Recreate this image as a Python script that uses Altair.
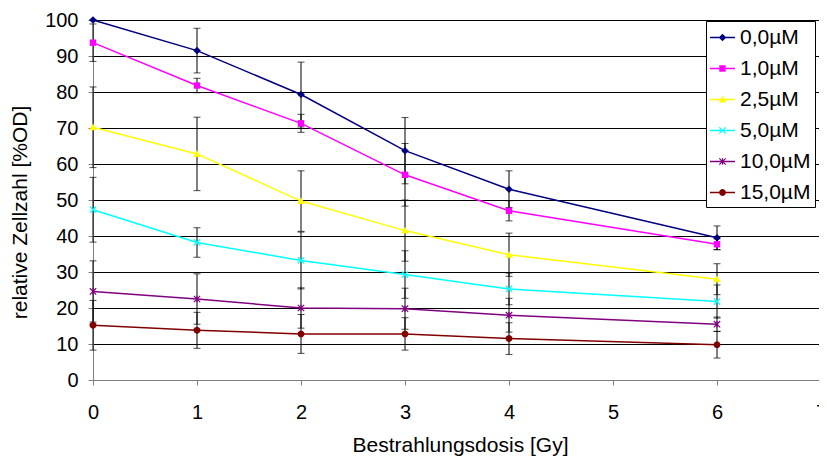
import math
import altair as alt
import pandas as pd

# ---------------- data ----------------
doses = [0, 1, 2, 3, 4, 6]
series_names = ["0,0µM", "1,0µM", "2,5µM", "5,0µM", "10,0µM", "15,0µM"]
series_colors = ["#000080", "#FF00FF", "#FFFF00", "#00FFFF", "#800080", "#800000"]

v_00 = [100.0, 91.5, 79.3, 63.7, 53.0, 39.5]
v_10 = [93.7, 81.8, 71.3, 57.0, 47.0, 37.7]
v_25 = [70.2, 62.8, 49.7, 41.5, 34.8, 28.0]
v_50 = [47.3, 38.2, 33.2, 29.3, 25.3, 21.8]
v_100 = [24.6, 22.5, 20.0, 19.8, 18.0, 15.5]
v_150 = [15.2, 13.8, 12.8, 12.8, 11.5, 9.8]

e_00 = [0.0, 6.2, 9.0, 9.2, 5.1, 3.3]
e_10 = [5.2, 2.0, 2.5, 8.7, 2.8, 1.5]
e_25 = [11.2, 10.2, 8.4, 8.5, 6.0, 4.3]
e_50 = [9.0, 4.1, 7.9, 6.6, 4.4, 4.6]
e_100 = [8.5, 7.0, 5.6, 5.7, 4.7, 2.0]
e_150 = [6.9, 5.0, 5.4, 4.5, 4.4, 3.7]

x_ticks = [0, 1, 2, 3, 4, 5, 6, 7]
y_ticks = [0, 10, 20, 30, 40, 50, 60, 70, 80, 90, 100]

values = [v_00, v_10, v_25, v_50, v_100, v_150]
errors = [e_00, e_10, e_25, e_50, e_100, e_150]

rows = []
for name, vals, errs in zip(series_names, values, errors):
    for d, v, e in zip(doses, vals, errs):
        rows.append({"series": name, "dose": d, "value": v, "lo": v - e, "hi": v + e})
df = pd.DataFrame(rows)


# ---------------- marker shapes (unit box -1..1) ----------------
def poly(pts):
    area = 0.0
    for i in range(len(pts)):
        x1, y1 = pts[i]
        x2, y2 = pts[(i + 1) % len(pts)]
        area += x1 * y2 - x2 * y1
    if area < 0:
        pts = pts[::-1]
    return "M" + "L".join(f"{x:.4f},{y:.4f}" for x, y in pts) + "Z"


def bar(x1, y1, x2, y2, w):
    dx, dy = x2 - x1, y2 - y1
    L = math.hypot(dx, dy)
    nx, ny = -dy / L * w, dx / L * w
    return poly([(x1 + nx, y1 + ny), (x2 + nx, y2 + ny), (x2 - nx, y2 - ny), (x1 - nx, y1 - ny)])


def diamond(k):
    a = 0.95 * k
    return poly([(0, -a), (a, 0), (0, a), (-a, 0)])


def square(k):
    a = 0.8 * k
    return poly([(-a, -a), (a, -a), (a, a), (-a, a)])


def triangle(k):
    return poly([(0, -0.95 * k), (0.95 * k, 0.75 * k), (-0.95 * k, 0.75 * k)])


def cross(k):
    a, w = 0.8 * k, 0.15 * k
    return bar(-a, -a, a, a, w) + bar(-a, a, a, -a, w)


def star(k):
    a, w = 0.8 * k, 0.15 * k
    return cross(k) + bar(0, -a, 0, a, w)


def circle(k):
    r = 0.85 * k
    return poly([(r * math.cos(2 * math.pi * i / 20), r * math.sin(2 * math.pi * i / 20)) for i in range(20)])


marker_fns = [diamond, square, triangle, cross, star, circle]
chart_shapes = [f(1.0) for f in marker_fns]
legend_line = poly([(-1, -0.06), (1, -0.06), (1, 0.06), (-1, 0.06)])
legend_shapes = [legend_line + f(0.32) for f in marker_fns]

FONT = "Liberation Sans"

x_axis = alt.Axis(values=x_ticks, title="Bestrahlungsdosis [Gy]", grid=False,
                  labelFlush=False, labelPadding=17, tickSize=5,
                  titleX=367, titleY=71, titleBaseline="alphabetic")
y_axis = alt.Axis(values=y_ticks, title="relative Zellzahl [%OD]", grid=True,
                  tickSize=5, labelPadding=10, titleAngle=-90,
                  titleX=-73, titleY=192, titleAlign="center", titleBaseline="middle")

x_enc = alt.X("dose:Q", scale=alt.Scale(domain=[0, 7], range=[0, 728], nice=False, zero=False), axis=x_axis)
y_scale = alt.Scale(domain=[0, 100], nice=False)

base = alt.Chart(df)

err_rule = base.mark_rule(color="#000000", strokeWidth=1).encode(
    x=x_enc,
    y=alt.Y("lo:Q", scale=y_scale, axis=y_axis),
    y2="hi:Q",
)
cap_lo = base.mark_tick(color="#000000", orient="horizontal", size=7, thickness=1).encode(
    x=x_enc, y=alt.Y("lo:Q", scale=y_scale, axis=y_axis)
)
cap_hi = base.mark_tick(color="#000000", orient="horizontal", size=7, thickness=1).encode(
    x=x_enc, y=alt.Y("hi:Q", scale=y_scale, axis=y_axis)
)

lines = base.mark_line(strokeWidth=1.5).encode(
    x=x_enc,
    y=alt.Y("value:Q", scale=y_scale, axis=y_axis),
    color=alt.Color("series:N", scale=alt.Scale(domain=series_names, range=series_colors), legend=None),
    detail="series:N",
)

points = base.mark_point(filled=True, opacity=1, size=64, strokeWidth=0).encode(
    x=x_enc,
    y=alt.Y("value:Q", scale=y_scale, axis=y_axis),
    color=alt.Color("series:N", scale=alt.Scale(domain=series_names, range=series_colors), legend=None),
    shape=alt.Shape("series:N", scale=alt.Scale(domain=series_names, range=chart_shapes), legend=None),
)

leg = alt.Legend(title=None, orient="none", legendX=613, legendY=1,
                 symbolSize=625, symbolStrokeWidth=0, labelFontSize=21, labelFont=FONT,
                 labelColor="#000000", labelOffset=5, padding=4, rowPadding=8,
                 strokeColor="#000000", fillColor="#FFFFFF", symbolOpacity=1)

legend_layer = base.transform_filter("datum.dose < 0").mark_point(filled=True, opacity=1, strokeWidth=0).encode(
    x=x_enc,
    y=alt.Y("value:Q", scale=y_scale, axis=y_axis),
    color=alt.Color("series:N", scale=alt.Scale(domain=series_names, range=series_colors), legend=leg),
    shape=alt.Shape("series:N", scale=alt.Scale(domain=series_names, range=legend_shapes), legend=leg),
)

chart = alt.layer(err_rule, cap_lo, cap_hi, lines, points, legend_layer).resolve_scale(
    color="independent", shape="independent"
).properties(
    width=726, height=360,
    autosize=alt.AutoSizeParams(type="none"),
    padding={"left": 85, "top": 12, "right": 0, "bottom": 80},
).configure_view(stroke=None).configure_axis(
    labelFont=FONT, titleFont=FONT, labelFontSize=20, titleFontSize=21,
    labelColor="#000000", titleColor="#000000", titleFontWeight="normal",
    domainColor="#808080", tickColor="#808080", domainWidth=1, tickWidth=1,
    gridColor="#000000", gridWidth=1, gridOpacity=1,
).configure_legend(cornerRadius=0)

chart.save("out.html", embed_options={"renderer": "svg", "actions": False})
